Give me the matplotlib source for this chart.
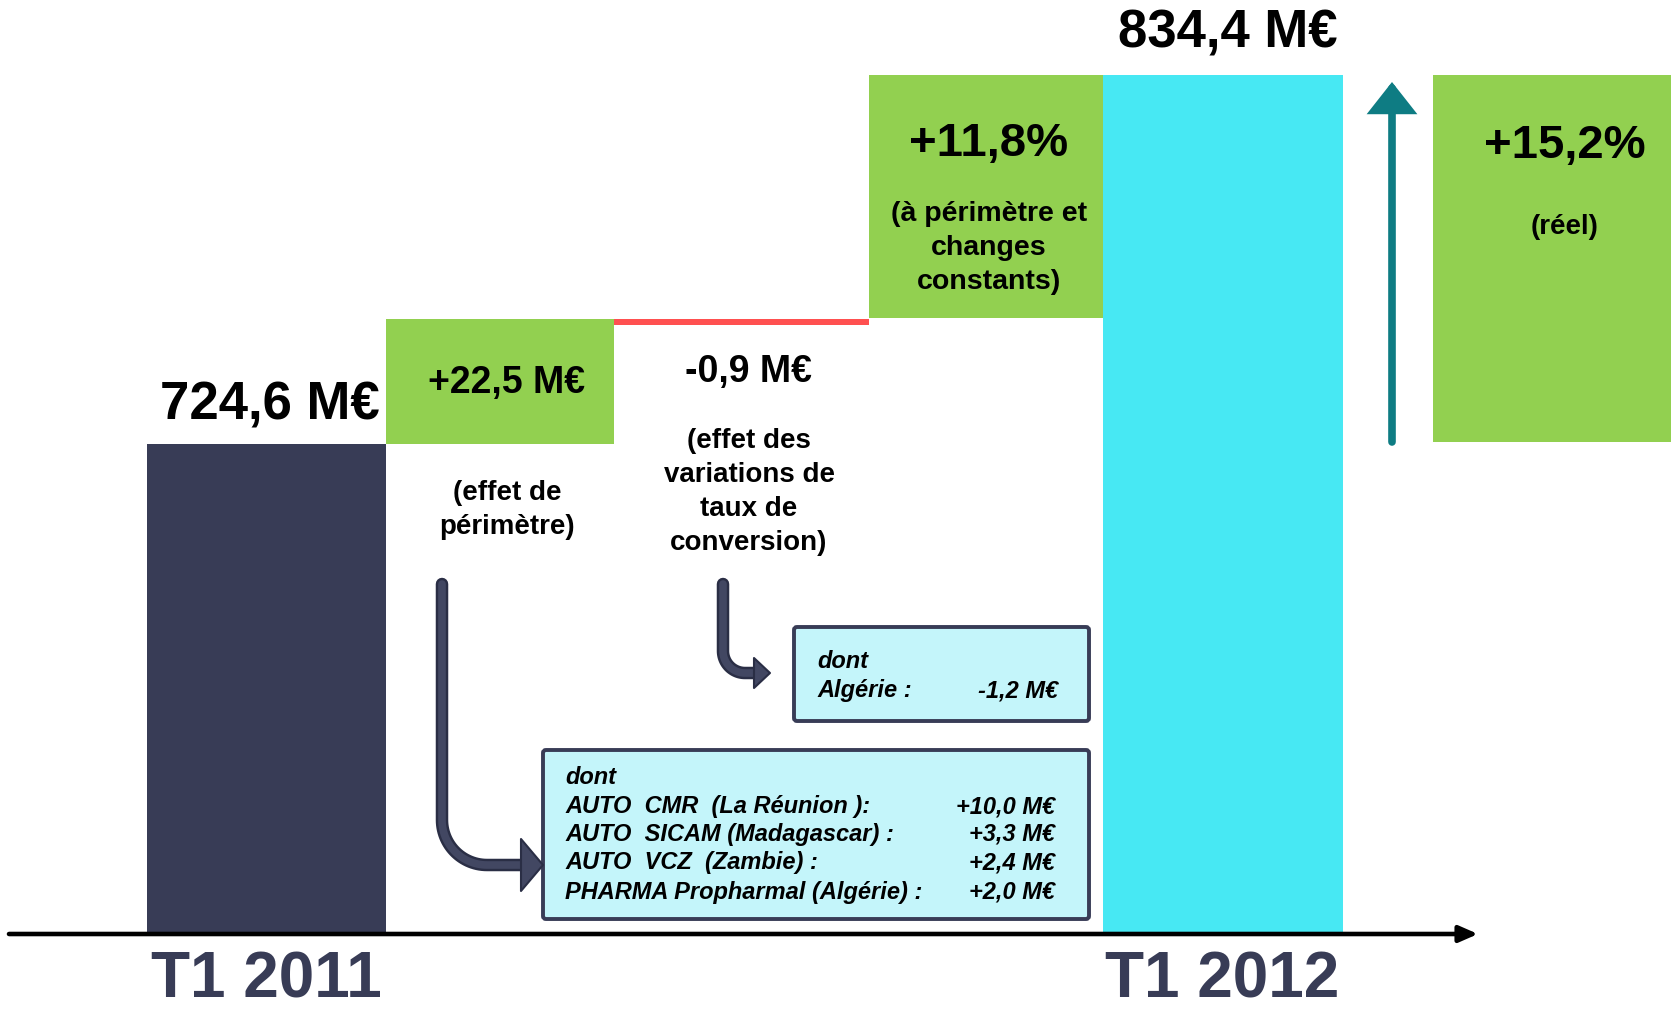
import numpy as np
import matplotlib.pyplot as plt
from matplotlib.patches import FancyBboxPatch, Polygon

plt.rcParams['font.family'] = ['Liberation Sans', 'DejaVu Sans']

# Data (M€)
periods = ["T1 2011", "T1 2012"]
step_names = ["T1 2011", "périmètre", "change", "organique", "T1 2012"]
step_values = [724.6, 22.5, -0.9, 88.2, 834.4]
growth_organic = 11.8
growth_real = 15.2

# schematic bar extents as drawn (chart not to scale)
bar_bottom = [0, 490, 609, 616, 0]
bar_top = [490, 615, 615, 859, 859]

perim_details = ["AUTO  CMR  (La Réunion ):", "AUTO  SICAM (Madagascar) :",
                 "AUTO  VCZ  (Zambie) :", "PHARMA Propharmal (Algérie) :"]
perim_amounts = ["+10,0 M€", "+3,3 M€", "+2,4 M€", "+2,0 M€"]
change_details = ["Algérie :"]
change_amounts = ["-1,2 M€"]

# Styles
navy = '#383C56'
green = '#92D050'
cyan = '#47E8F3'
red = '#FF5050'
teal = '#0E7C83'
boxfill = '#C4F5FA'
bar_colors = [navy, green, red, green, cyan]
edges = [147, 386, 614, 869, 1103, 1343]


def fmt(v, sign=False):
    s = f"{v:+.1f}" if sign else f"{v:.1f}"
    return s.replace('.', ',') + " M€"


fig = plt.figure(figsize=(16.71, 10.09), dpi=100)
ax = fig.add_axes([0, 0, 1, 1])
ax.set_xlim(0, 1671)
ax.set_ylim(-75, 934)
ax.axis('off')

# waterfall bars
lefts = np.array(edges[:-1])
widths = np.diff(edges)
heights = np.array(bar_top) - np.array(bar_bottom)
ax.bar(lefts, heights, width=widths, bottom=bar_bottom, align='edge',
       color=bar_colors, linewidth=0, zorder=2)

# right box "réel"
ax.bar(1433, bar_top[-1] - 492, width=260, bottom=492, align='edge',
       color=green, linewidth=0, zorder=2)
ax.annotate("", xy=(1392, 852), xytext=(1392, 492),
            arrowprops=dict(arrowstyle="-|>,head_width=0.63,head_length=0.8",
                            mutation_scale=20, color=teal, lw=5.5,
                            joinstyle='miter', shrinkA=0, shrinkB=0))

# x axis
ax.annotate("", xy=(1478, 0), xytext=(9, 0),
            arrowprops=dict(arrowstyle="-|>,head_width=0.35,head_length=0.8",
                            mutation_scale=14, color='black', lw=3.3,
                            shrinkA=0, shrinkB=0), zorder=4)

bold = dict(fontweight='bold', ha='center', va='center', color='black')
ax.text(270, 529, fmt(step_values[0]), fontsize=38, **bold)
ax.text(1228, 900, fmt(step_values[4]), fontsize=38, **bold)
ax.text(507, 551, fmt(step_values[1], True), fontsize=27, zorder=3, **bold)
ax.text(507, 424, "(effet de\npérimètre)", fontsize=20, linespacing=1.4, **bold)
ax.text(748, 562, fmt(step_values[2], True), fontsize=27, **bold)
ax.text(749, 442, "(effet des\nvariations de\ntaux de\nconversion)", fontsize=20,
        linespacing=1.4, **bold)
ax.text(989, 790, f"+{growth_organic:.1f}%".replace('.', ','), fontsize=34, zorder=3, **bold)
ax.text(989, 686, "(à périmètre et\nchanges\nconstants)", fontsize=20.5,
        linespacing=1.4, zorder=3, **bold)
ax.text(1565, 788, f"+{growth_real:.1f}%".replace('.', ','), fontsize=34, zorder=3, **bold)
ax.text(1565, 707, "(réel)", fontsize=20, zorder=3, **bold)

for x, lab in zip([266, 1222], periods):
    ax.text(x, -46, lab, fontsize=46, fontweight='bold', color=navy,
            ha='center', va='center')


# detail boxes
def detail_box(x0, y0, x1, y1, tx, tx_r, rows, names, amounts):
    ax.add_patch(FancyBboxPatch((x0, y0), x1 - x0, y1 - y0,
                                boxstyle="round,pad=0,rounding_size=3",
                                fc=boxfill, ec=navy, lw=2.8, zorder=3))
    style = dict(fontsize=17, fontweight='bold', style='italic', va='center', zorder=4)
    ax.text(tx, rows[0], "dont", ha='left', **style)
    for y, n, a in zip(rows[1:], names, amounts):
        ax.text(tx, y, n, ha='left', **style)
        ax.text(tx_r, y, a, ha='right', **style)


detail_box(794, 213, 1089, 307, 817, 1058, [273, 243], change_details, change_amounts)
detail_box(543, 15, 1089, 184, 565, 1055, [156, 127, 100, 71, 42],
           perim_details, perim_amounts)


# bent block arrows
def bent_arrow(x0, y0, yh, tip, r, head_len, head_w):
    t = np.linspace(np.pi, 1.5 * np.pi, 30)
    xs = np.concatenate([[x0], x0 + r + r * np.cos(t), [tip - head_len + 2]])
    ys = np.concatenate([[y0], yh + r + r * np.sin(t), [yh]])
    ax.plot(xs, ys, color='#2a2e45', lw=9, solid_capstyle='round',
            solid_joinstyle='round', zorder=3)
    ax.plot(xs, ys, color='#424762', lw=5.5, solid_capstyle='round',
            solid_joinstyle='round', zorder=3)
    ax.add_patch(Polygon([(tip - head_len, yh + head_w / 2), (tip, yh),
                          (tip - head_len, yh - head_w / 2)],
                         closed=True, fc='#424762', ec='#2a2e45', lw=1.5,
                         joinstyle='round', zorder=3))


bent_arrow(442, 350, 69, 543, 45, 22, 52)
bent_arrow(723, 350, 261, 770, 22, 16, 30)

fig.savefig("out.png", dpi=100)
